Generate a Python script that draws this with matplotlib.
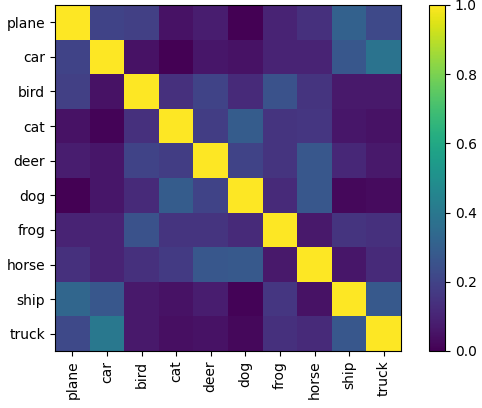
import numpy as np
import matplotlib
matplotlib.use("Agg")
import matplotlib.pyplot as plt

classes = ["plane", "car", "bird", "cat", "deer", "dog", "frog", "horse", "ship", "truck"]
row_plane = [1.00, 0.20, 0.19, 0.05, 0.08, 0.00, 0.10, 0.14, 0.31, 0.22]
row_car   = [0.20, 1.00, 0.05, 0.00, 0.06, 0.05, 0.10, 0.10, 0.27, 0.38]
row_bird  = [0.19, 0.05, 1.00, 0.14, 0.20, 0.12, 0.25, 0.15, 0.07, 0.07]
row_cat   = [0.05, 0.01, 0.14, 1.00, 0.18, 0.29, 0.15, 0.16, 0.06, 0.05]
row_deer  = [0.08, 0.06, 0.20, 0.18, 1.00, 0.20, 0.15, 0.27, 0.11, 0.07]
row_dog   = [0.00, 0.06, 0.12, 0.29, 0.20, 1.00, 0.12, 0.27, 0.02, 0.03]
row_frog  = [0.10, 0.10, 0.25, 0.15, 0.15, 0.12, 1.00, 0.07, 0.15, 0.14]
row_horse = [0.14, 0.10, 0.14, 0.17, 0.27, 0.28, 0.07, 1.00, 0.06, 0.12]
row_ship  = [0.33, 0.27, 0.07, 0.05, 0.08, 0.01, 0.16, 0.05, 1.00, 0.28]
row_truck = [0.22, 0.40, 0.07, 0.04, 0.05, 0.02, 0.14, 0.12, 0.27, 1.00]

matrix = np.array([row_plane, row_car, row_bird, row_cat, row_deer,
                   row_dog, row_frog, row_horse, row_ship, row_truck])

fig = plt.figure(figsize=(4.82, 4.08), dpi=100)
ax = fig.add_axes([55/482, 1-351/408, 346/482, 346/408])
im = ax.imshow(matrix, cmap="viridis", vmin=0, vmax=1, aspect="auto")
ax.set_xticks(range(len(classes)))
ax.set_xticklabels(classes, rotation=90)
ax.set_yticks(range(len(classes)))
ax.set_yticklabels(classes)
cax = fig.add_axes([429/482, 1-351/408, 16/482, 346/408])
cb = fig.colorbar(im, cax=cax)
cb.set_ticks([0.0, 0.2, 0.4, 0.6, 0.8, 1.0])
fig.savefig("out.png", dpi=100)
